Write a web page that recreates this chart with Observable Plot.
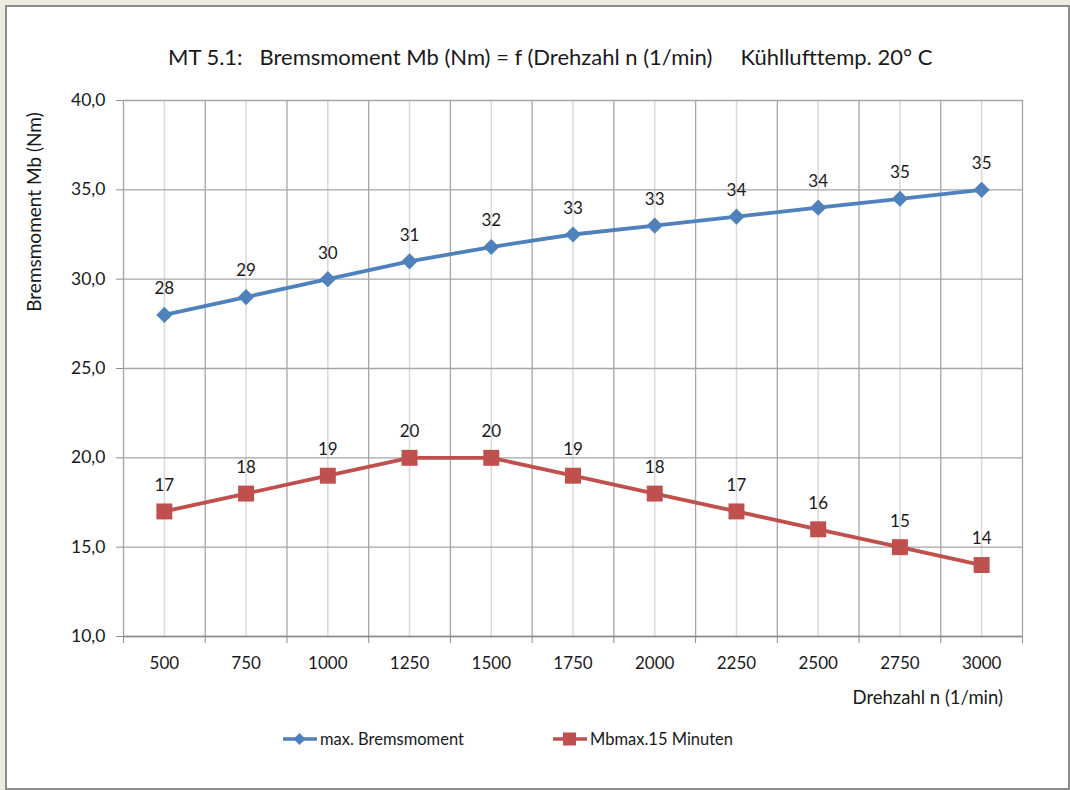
<!DOCTYPE html>
<html><head><meta charset="utf-8">
<script src="https://cdn.jsdelivr.net/npm/d3@7"></script>
<script src="https://cdn.jsdelivr.net/npm/@observablehq/plot@0.6"></script>
<style>
html,body{margin:0;padding:0;}
body{width:1070px;height:790px;background:#eeece1;position:relative;overflow:hidden;font-family:Lato,"Open Sans",sans-serif;color:#1a1a1a;}
#frame{position:absolute;left:5px;top:5px;width:1061px;height:781px;border:2px solid #8c8c8c;background:#fff;box-sizing:content-box;}
#chart{position:absolute;left:0;top:0;}
#title{position:absolute;top:57px;left:168px;font-size:22px;line-height:1;white-space:pre;transform:translateY(-50%);}
#ylab{position:absolute;left:33px;top:212px;font-size:19px;line-height:1;white-space:pre;transform:translate(-50%,-50%) rotate(-90deg);}
#xlab{position:absolute;right:67px;top:697px;font-size:18.5px;line-height:1;white-space:pre;transform:translateY(-50%);}
.leg{position:absolute;top:739px;font-size:16.5px;line-height:1;white-space:pre;display:flex;align-items:center;transform:translateY(-50%);}
.leg svg{margin-right:2px;}
</style></head>
<body>
<div id="frame"></div>
<div id="chart"></div>
<div id="title">MT 5.1:   Bremsmoment Mb (Nm) = f (Drehzahl n (1/min)     Kühllufttemp. 20° C</div>
<div id="ylab">Bremsmoment Mb (Nm)</div>
<div id="xlab">Drehzahl n (1/min)</div>
<div class="leg" style="left:282px"><svg width="36" height="20"><line x1="1" y1="10" x2="35" y2="10" stroke="#4f81bd" stroke-width="3.5"/><path d="M17.5 4 L23.5 10 L17.5 16 L11.5 10 Z" fill="#4f81bd"/></svg>max. Bremsmoment</div>
<div class="leg" style="left:552px"><svg width="36" height="20"><line x1="1" y1="10" x2="35" y2="10" stroke="#c0504d" stroke-width="3.5"/><rect x="11" y="3.5" width="13" height="13" fill="#c0504d"/></svg>Mbmax.15 Minuten</div>
<script>
const rpm = [500, 750, 1000, 1250, 1500, 1750, 2000, 2250, 2500, 2750, 3000];
const maxBrems = [28, 29, 30, 31, 31.8, 32.5, 33, 33.5, 34, 34.5, 35];
const mb15 = [17, 18, 19, 20, 20, 19, 18, 17, 16, 15, 14];
const yTicks = [10, 15, 20, 25, 30, 35, 40];

const step = rpm[1] - rpm[0];
const bounds = rpm.map(v => v - step / 2).concat([rpm[rpm.length - 1] + step / 2]);
const blue = rpm.map((n, i) => ({n, v: maxBrems[i]}));
const red = rpm.map((n, i) => ({n, v: mb15[i]}));
const fmtY = d => d.toFixed(1).replace(".", ",");
const fmtL = d => String(Math.round(d));

const plot = Plot.plot({
  width: 1070, height: 700,
  marginLeft: 123, marginRight: 48, marginTop: 100, marginBottom: 64,
  style: {fontFamily: "Lato, 'Open Sans', sans-serif", fontSize: "17px", color: "#1a1a1a", background: "transparent", overflow: "visible"},
  x: {type: "linear", domain: [bounds[0], bounds[bounds.length - 1]]},
  y: {domain: [10, 40]},
  marks: [
    Plot.ruleX(rpm, {stroke: "#d9d9d9", strokeWidth: 1.5, strokeOpacity: 1}),
    Plot.ruleY(yTicks, {stroke: "#a6a6a6", strokeWidth: 1.3, strokeOpacity: 1}),
    Plot.ruleX(bounds, {stroke: "#a6a6a6", strokeWidth: 1.3, strokeOpacity: 1}),
    Plot.axisY({ticks: yTicks, tickFormat: fmtY, tickSize: 7, tickPadding: 11, stroke: "#8c8c8c", strokeOpacity: 1, label: null, fontSize: 17.5, fill: "#1a1a1a"}),
    Plot.axisX({ticks: bounds, tickFormat: () => "", tickSize: 7, stroke: "#8c8c8c", strokeOpacity: 1, label: null}),
    Plot.axisX({ticks: rpm, tickSize: 0, tickPadding: 20, tickFormat: d => String(d), label: null, fontSize: 17, fill: "#1a1a1a"}),
    Plot.ruleY([10], {stroke: "#8c8c8c", strokeWidth: 1.3}),
    Plot.line(blue, {x: "n", y: "v", stroke: "#4f81bd", strokeWidth: 3.8}),
    Plot.dot(blue, {x: "n", y: "v", symbol: "diamond2", r: 7.3, fill: "#4f81bd", stroke: "none"}),
    Plot.text(blue, {x: "n", y: "v", text: d => fmtL(d.v), dy: -26, fontSize: 17, fill: "#1a1a1a"}),
    Plot.line(red, {x: "n", y: "v", stroke: "#c0504d", strokeWidth: 3.8}),
    Plot.dot(red, {x: "n", y: "v", symbol: "square", r: 9, fill: "#c0504d", stroke: "none"}),
    Plot.text(red, {x: "n", y: "v", text: d => fmtL(d.v), dy: -26, fontSize: 17, fill: "#1a1a1a"})
  ]
});
document.getElementById("chart").appendChild(plot);
</script>
</body></html>
